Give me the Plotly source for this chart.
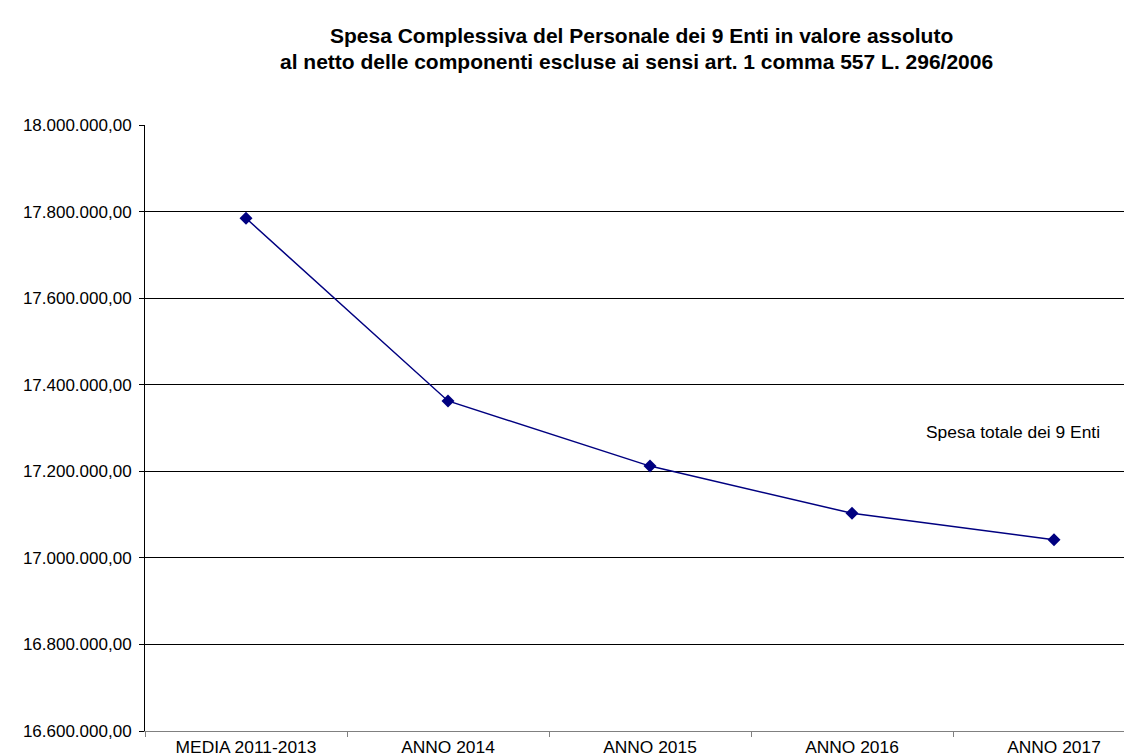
import plotly.graph_objects as go

categories = ["MEDIA 2011-2013", "ANNO 2014", "ANNO 2015", "ANNO 2016", "ANNO 2017"]
spesa_totale = [17784500, 17362500, 17212000, 17103000, 17042000]
series_name = "Spesa totale dei 9 Enti"
title_lines = [
    "Spesa Complessiva del Personale dei 9 Enti in valore assoluto",
    "al netto delle componenti escluse ai sensi art. 1 comma 557 L. 296/2006",
]
y_ticks = [16600000 + 200000 * i for i in range(8)]


def it_fmt(v):
    s = f"{v:,.2f}"
    return s.replace(",", "X").replace(".", ",").replace("X", ".")


FONT = "Arial, 'Liberation Sans', sans-serif"

fig = go.Figure()
fig.add_trace(go.Scatter(
    x=categories, y=spesa_totale, mode="lines+markers", name=series_name,
    line=dict(color="#000080", width=1.5),
    marker=dict(symbol="diamond", size=10, color="#000080"),
    showlegend=False,
))

W, H = 1132, 756
left, top, bottom = 137, 117, 33
plot_h = H - top - bottom
cat_w = 202
plot_w = W - left
x_end = -0.5 + plot_w / cat_w

fig.update_layout(
    width=W, height=H,
    margin=dict(l=left, r=0, t=top, b=bottom),
    paper_bgcolor="white", plot_bgcolor="white",
    font=dict(family=FONT, color="black", size=16),
    xaxis=dict(
        type="category", range=[-0.5, x_end],
        showline=True, linecolor="#808080", linewidth=1,
        ticks="outside", tickson="boundaries", ticklen=5, tickcolor="#808080",
        showgrid=False, tickfont=dict(size=17.4, family=FONT),
    ),
    yaxis=dict(
        range=[16600000, 18000000],
        tickvals=y_ticks, ticktext=[it_fmt(v) for v in y_ticks],
        showline=True, linecolor="black", linewidth=1,
        ticks="outside", ticklen=5, tickcolor="black",
        ticklabelstandoff=4,
        showgrid=True, gridcolor="black", gridwidth=1,
        zeroline=False, tickfont=dict(size=17, family=FONT),
    ),
)


def px_x(x):
    return (x - left) / plot_w


def px_y(y):
    return 1 - (y - top) / plot_h


fig.add_annotation(text="<b>" + title_lines[0] + "</b>", xref="paper", yref="paper",
                   x=px_x(633), y=px_y(27), showarrow=False,
                   font=dict(size=21, family=FONT), xanchor="center", yanchor="middle")
fig.add_annotation(text="<b>" + title_lines[1] + "</b>", xref="paper", yref="paper",
                   x=px_x(628), y=px_y(54), showarrow=False,
                   font=dict(size=21, family=FONT), xanchor="center", yanchor="middle")
fig.add_annotation(text=series_name, xref="paper", yref="paper",
                   x=px_x(916), y=px_y(424), showarrow=False,
                   font=dict(size=17.4, family=FONT), xanchor="left", yanchor="middle")

fig.write_html("out.html", config={"displayModeBar": False})
